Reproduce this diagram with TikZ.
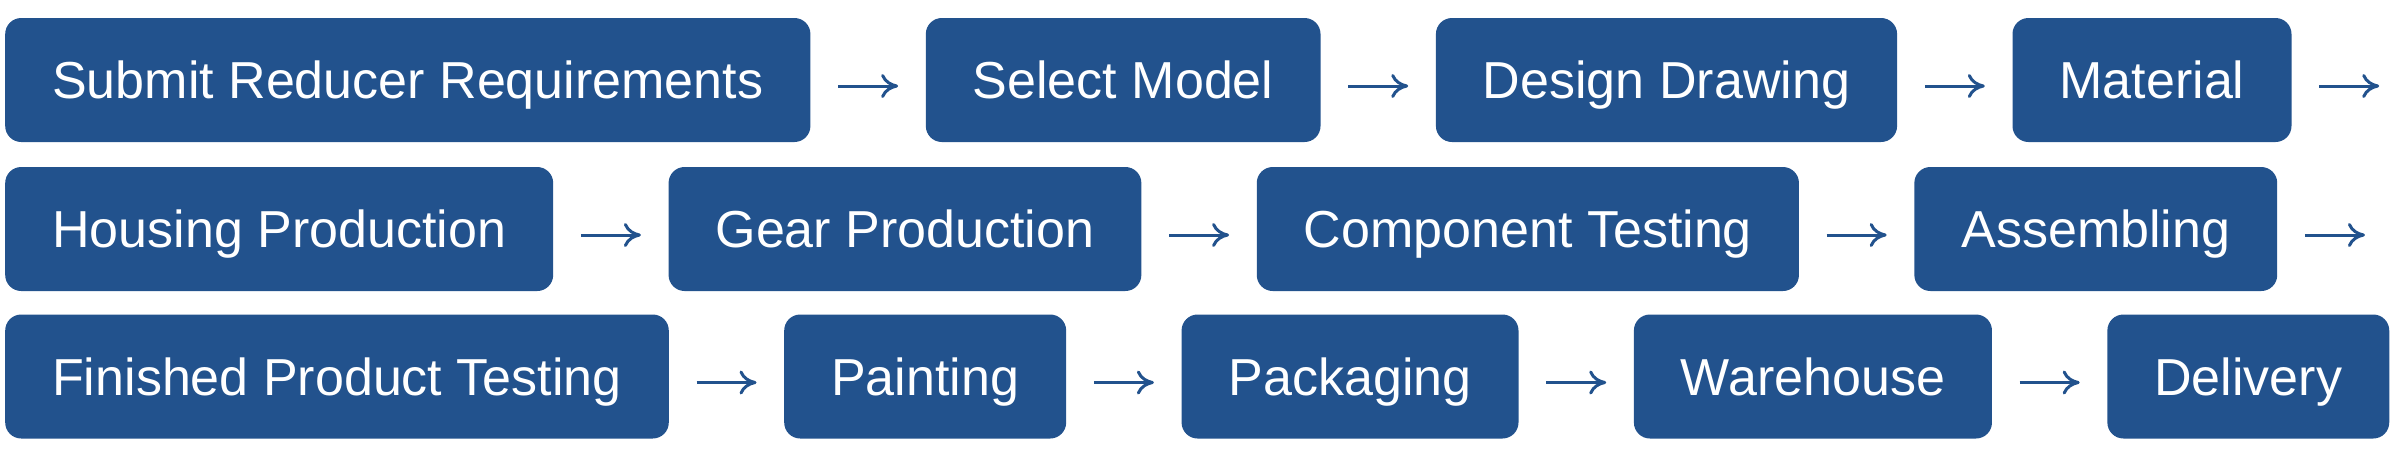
\documentclass[tikz,border=0pt]{standalone}
\usepackage{fontspec}
\setmainfont{Liberation Sans}
\usetikzlibrary{arrows.meta,positioning}
\definecolor{flowblue}{RGB}{34,82,141}
\tikzset{
  stepnode/.style={rectangle,rounded corners=1.6mm,fill=flowblue,text=white,
    font=\fontsize{14.8}{18}\selectfont,minimum height=12.4mm,inner xsep=4.7mm,
    text height=10.6pt,text depth=0pt},
  flowarr/.style={-{Computer Modern Rightarrow[length=1.7mm,width=2.4mm]},line width=0.3mm,
    color=flowblue,shorten <=2.7mm,shorten >=2.7mm}
}

\begin{document}
\begin{tikzpicture}[node distance=11.4mm]
  \useasboundingbox (0,0) rectangle (239.6mm,-47mm);

  %% Row 1
  \node[stepnode,anchor=west] (sub) at (0.45mm,-8mm) {Submit Reducer Requirements};
  \node[stepnode,right=of sub] (sel) {Select Model};
  \node[stepnode,right=of sel] (des) {Design Drawing};
  \node[stepnode,right=of des] (mat) {Material};
  \coordinate[right=of mat] (matend);

  %% Row 2
  \node[stepnode,anchor=west] (hou) at (0.45mm,-22.9mm) {Housing Production};
  \node[stepnode,right=of hou] (gear) {Gear Production};
  \node[stepnode,right=of gear] (comp) {Component Testing};
  \node[stepnode,right=of comp] (asm) {Assembling};
  \coordinate[right=of asm] (asmend);

  %% Row 3
  \node[stepnode,anchor=west] (fin) at (0.45mm,-37.65mm) {Finished Product Testing};
  \node[stepnode,right=of fin] (paint) {Painting};
  \node[stepnode,right=of paint] (pack) {Packaging};
  \node[stepnode,right=of pack] (ware) {Warehouse};
  \node[stepnode,right=of ware] (deliv) {Delivery};

  \draw[flowarr] ([yshift=-0.6mm]sub.east) -- ([yshift=-0.6mm]sel.west);
  \draw[flowarr] ([yshift=-0.6mm]sel.east) -- ([yshift=-0.6mm]des.west);
  \draw[flowarr] ([yshift=-0.6mm]des.east) -- ([yshift=-0.6mm]mat.west);
  \draw[flowarr] ([yshift=-0.6mm]mat.east) -- ([yshift=-0.6mm]matend);
  \draw[flowarr] ([yshift=-0.6mm]hou.east) -- ([yshift=-0.6mm]gear.west);
  \draw[flowarr] ([yshift=-0.6mm]gear.east) -- ([yshift=-0.6mm]comp.west);
  \draw[flowarr] ([yshift=-0.6mm]comp.east) -- ([yshift=-0.6mm]asm.west);
  \draw[flowarr] ([yshift=-0.6mm]asm.east) -- ([yshift=-0.6mm]asmend);
  \draw[flowarr] ([yshift=-0.6mm]fin.east) -- ([yshift=-0.6mm]paint.west);
  \draw[flowarr] ([yshift=-0.6mm]paint.east) -- ([yshift=-0.6mm]pack.west);
  \draw[flowarr] ([yshift=-0.6mm]pack.east) -- ([yshift=-0.6mm]ware.west);
  \draw[flowarr] ([yshift=-0.6mm]ware.east) -- ([yshift=-0.6mm]deliv.west);
\end{tikzpicture}
\end{document}
